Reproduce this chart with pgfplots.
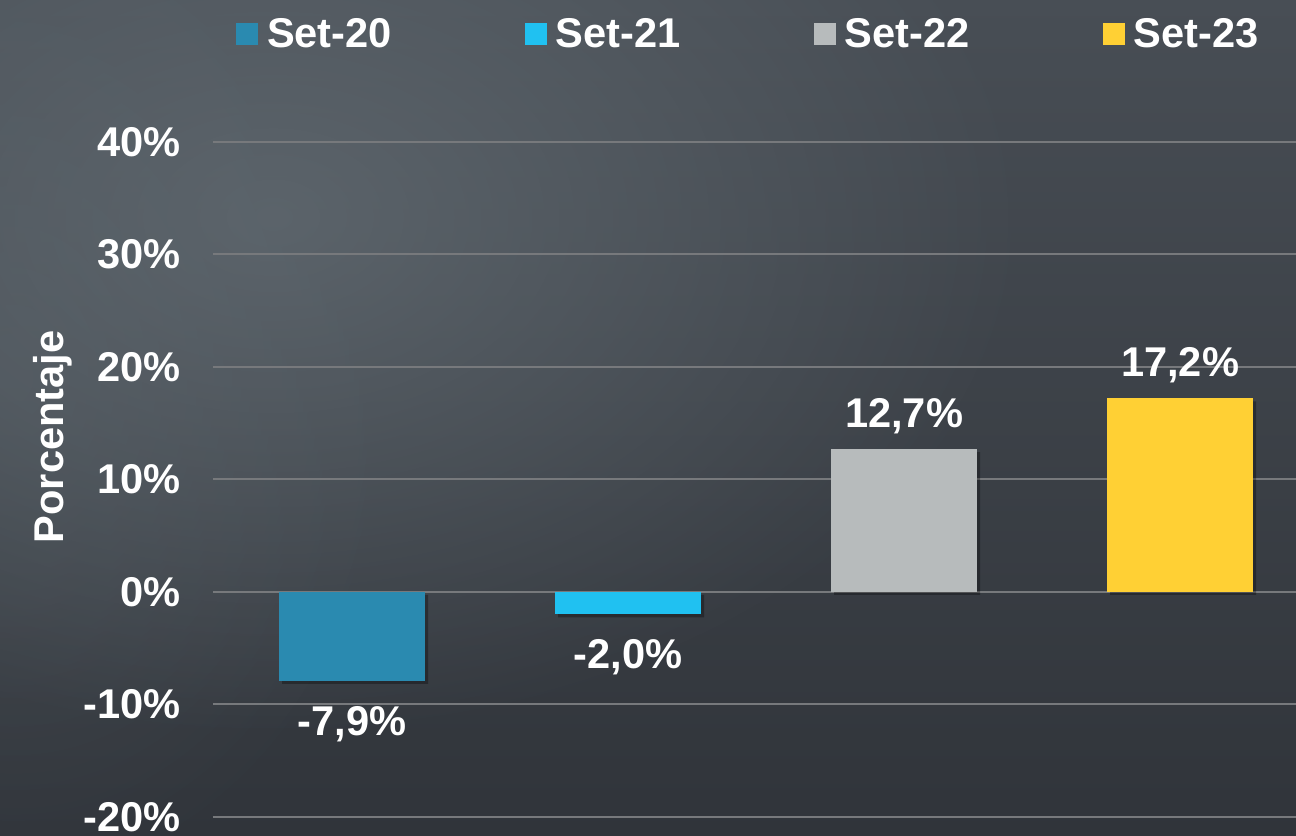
\documentclass[border=0pt]{standalone}
\usepackage{fontspec}
\setmainfont{Liberation Sans}
\usepackage{pgfplots}
\pgfplotsset{compat=1.18}
\usetikzlibrary{fadings}

\definecolor{bgTop}{HTML}{484E55}
\definecolor{bgBot}{HTML}{30343A}
\definecolor{bgC}{HTML}{626B72}
\definecolor{c20}{HTML}{2A8AB0}
\definecolor{c21}{HTML}{20C1F1}
\definecolor{c22}{HTML}{B7BBBC}
\definecolor{c23}{HTML}{FFD034}
\definecolor{gridc}{HTML}{77797C}

\tikzfading[name=soft, inner color=transparent!0, outer color=transparent!100]
\pgfdeclarelayer{background}
\pgfsetlayers{background,main}

\newcommand{\lblfont}{\fontsize{20.8bp}{24bp}\selectfont\bfseries}

\begin{document}
\begin{tikzpicture}
\begin{axis}[
  width=541.5bp, height=337.5bp, scale only axis,
  xmin=-0.504, xmax=3.42,
  ymin=-20, ymax=40,
  ytick={-20,-10,...,40},
  xtick=\empty,
  axis line style={draw=none},
  tick style={draw=none},
  ymajorgrids,
  grid style={gridc, line width=1bp},
  ybar, bar width=73bp, bar shift=0pt,
  /pgf/number format/assume math mode=true,
  yticklabel={\pgfmathprintnumber{\tick}\%},
  yticklabel style={font=\lblfont, text=white, inner xsep=0pt, xshift=-16bp},
  ylabel={Porcentaje},
  ylabel style={font=\lblfont, text=white, at={(axis description cs:-0.1478,0.563)}, anchor=center},
  nodes near coords={\pgfmathprintnumber[fixed,fixed zerofill,precision=1,use comma,assume math mode=true]{\pgfplotspointmeta}\%},
  every node near coord/.append style={font=\lblfont, text=white, inner xsep=0pt, inner ysep=10bp, yshift=-2.5bp},
  legend columns=4,
  legend image code/.code={\fill[#1] (0bp,-5.5bp) rectangle (11bp,5.5bp);},
  legend style={at={(axis description cs:0.4975,1.16)}, anchor=center, draw=none, fill=none,
    text=white, font=\fontsize{20.8bp}{24bp}\selectfont\bfseries,
    nodes={inner xsep=4.5bp, inner ysep=0pt},
    /tikz/every even column/.append style={column sep=62bp}},
]
% soft shadows under the bars
\addplot[fill=black, draw=none, opacity=0.3, forget plot, nodes near coords={}, /tikz/xshift=1.5bp, /tikz/yshift=-1.5bp]
  coordinates {(0,-7.9) (1,-2.0) (2,12.7) (3,17.2)};
\addplot[fill=c20, draw=none] coordinates {(0,-7.9)};
\addlegendentry{Set-20}
\addplot[fill=c21, draw=none] coordinates {(1,-2.0)};
\addlegendentry{Set-21}
\addplot[fill=c22, draw=none] coordinates {(2,12.7)};
\addlegendentry{Set-22}
\addplot[fill=c23, draw=none] coordinates {(3,17.2)};
\addlegendentry{Set-23}
\end{axis}
\pgfresetboundingbox
\path[use as bounding box] (-106.5bp,-9.5bp) rectangle (541.5bp,408.5bp);
\begin{pgfonlayer}{background}
\shade[top color=bgTop, bottom color=bgBot] (-106.5bp,-9.5bp) rectangle (541.5bp,408.5bp);
\fill[bgC, opacity=0.8, path fading=soft] (30bp,300bp) ellipse (380bp and 260bp);
\fill[bgC, opacity=0.35, path fading=soft] (-100bp,220bp) ellipse (200bp and 260bp);
\end{pgfonlayer}
\end{tikzpicture}
\end{document}
